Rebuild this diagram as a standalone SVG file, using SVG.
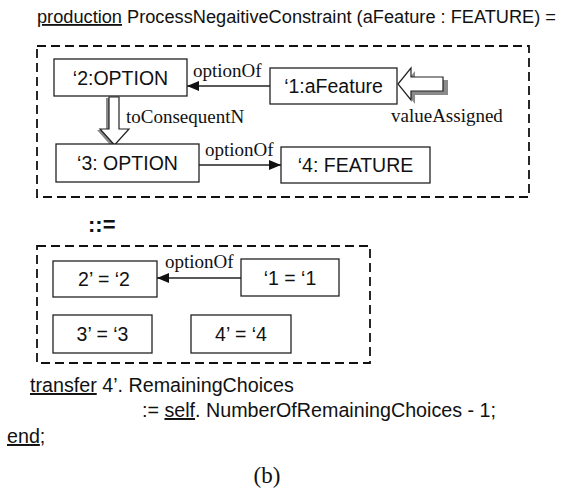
<svg xmlns="http://www.w3.org/2000/svg" width="568" height="489" viewBox="0 0 568 489">
  <style>
    .frame { fill: none; stroke: #111; stroke-width: 1.8; stroke-dasharray: 9 5; }
    .box { fill: #fff; stroke: #222; stroke-width: 1.3; }
    .lbl { font-family: "Liberation Sans", Arial, sans-serif; font-size: 19.5px; fill: #111; text-anchor: middle; }
    .code { font-family: "Liberation Sans", Arial, sans-serif; font-size: 19.7px; fill: #111; }
    .rel { font-family: "Liberation Serif", "Times New Roman", serif; font-size: 19px; fill: #111; }
    .edge { stroke: #222; stroke-width: 1.3; fill: none; }
    .hollow { fill: #fff; stroke: #222; stroke-width: 1.2; }
    .shade { fill: #8a8a8a; }
    .u { text-decoration: underline; }
  </style>
  <defs>
    <marker id="head" viewBox="0 0 12 10" refX="12" refY="5" markerWidth="12" markerHeight="10" markerUnits="userSpaceOnUse" orient="auto">
      <path d="M0,0 L12,5 L0,10 Z" fill="#111"/>
    </marker>
  </defs>

  <!-- header -->
  <text class="code" x="37" y="23" style="font-size:18.3px" textLength="519" lengthAdjust="spacingAndGlyphs"><tspan class="u">production</tspan> ProcessNegaitiveConstraint (aFeature : FEATURE) =</text>

  <!-- left-hand side frame -->
  <rect class="frame" x="37" y="46" width="492" height="151"/>

  <!-- right-hand side frame -->
  <rect class="frame" x="37" y="246" width="333" height="117"/>

  <!-- connectors -->
  <g id="connectors">
    <line class="edge" x1="270" y1="86" x2="187" y2="86" marker-end="url(#head)"/>
    <text class="rel" x="193" y="77">optionOf</text>

    <line class="edge" x1="199" y1="165" x2="281" y2="165" marker-end="url(#head)"/>
    <text class="rel" x="205" y="156">optionOf</text>

    <line class="edge" x1="241" y1="278" x2="157" y2="278" marker-end="url(#head)"/>
    <text class="rel" x="165" y="268">optionOf</text>

    <!-- toConsequentN: hollow arrow pointing down -->
    <polygon class="shade" points="106,98 116,98 116,130 126,130 112,147 97,130 106,130"/>
    <polygon class="hollow" points="109,97 119,97 119,129 129,129 114.5,145 100,129 109,129"/>
    <text class="rel" x="126" y="123">toConsequentN</text>

    <!-- valueAssigned: hollow arrow pointing left -->
    <polygon class="shade" points="402,87 415,71 415,80 448,80 448,95 415,95 415,104"/>
    <polygon class="hollow" points="398,84 411,68 411,77 443,77 443,91 411,91 411,100"/>
    <text class="rel" x="391" y="122">valueAssigned</text>
  </g>

  <!-- left-hand side nodes -->
  <g id="n2">
    <rect class="box" x="54" y="59" width="133" height="37"/>
    <text class="lbl" x="120.5" y="84.5">‘2:OPTION</text>
  </g>
  <g id="n1">
    <rect class="box" x="270" y="68" width="127" height="36"/>
    <text class="lbl" x="333.5" y="93">‘1:aFeature</text>
  </g>
  <g id="n3">
    <rect class="box" x="56" y="144" width="143" height="38"/>
    <text class="lbl" x="127.5" y="170">‘3: OPTION</text>
  </g>
  <g id="n4">
    <rect class="box" x="281" y="147" width="149" height="36"/>
    <text class="lbl" x="355.5" y="172">‘4: FEATURE</text>
  </g>

  <!-- rewrite symbol -->
  <text x="88" y="232" font-family="Liberation Sans, Arial, sans-serif" font-size="22" font-weight="bold" fill="#111">::=</text>

  <!-- right-hand side nodes -->
  <g id="m2">
    <rect class="box" x="53" y="261" width="104" height="36"/>
    <text class="lbl" x="104" y="286">2’ = ‘2</text>
  </g>
  <g id="m1">
    <rect class="box" x="241" y="259" width="98" height="37"/>
    <text class="lbl" x="290" y="284.5">‘1 = ‘1</text>
  </g>
  <g id="m3">
    <rect class="box" x="53" y="315" width="99" height="38"/>
    <text class="lbl" x="102.5" y="341">3’ = ‘3</text>
  </g>
  <g id="m4">
    <rect class="box" x="191" y="315" width="100" height="38"/>
    <text class="lbl" x="241" y="341">4’ = ‘4</text>
  </g>

  <!-- attribute transfer -->
  <text class="code" x="30" y="392"><tspan class="u">transfer</tspan> 4’. RemainingChoices</text>
  <text class="code" x="142" y="417">:= <tspan class="u">self</tspan>. NumberOfRemainingChoices - 1;</text>
  <text class="code" x="7" y="443"><tspan class="u">end</tspan>;</text>

  <text class="rel" x="267" y="483" style="font-size:23px" text-anchor="middle">(b)</text>
</svg>
